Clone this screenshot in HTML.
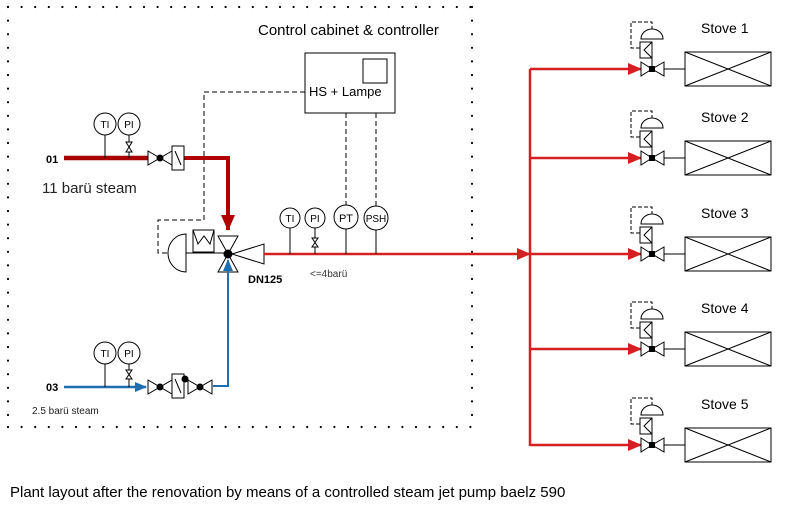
<!DOCTYPE html>
<html><head><style>body{margin:0;background:#fff}svg{display:block}text{font-family:"Liberation Sans",Arial,sans-serif}</style></head><body>
<svg width="786" height="506" viewBox="0 0 786 506" xmlns="http://www.w3.org/2000/svg">
<defs>
<marker id="ar" markerWidth="14" markerHeight="12" refX="13" refY="6" orient="auto" markerUnits="userSpaceOnUse"><path d="M0,0 L14,6 L0,12z" fill="#d42020"/></marker>
<marker id="ab" markerWidth="12" markerHeight="10" refX="11" refY="5" orient="auto" markerUnits="userSpaceOnUse"><path d="M0,0 L12,5 L0,10z" fill="#1f6fb0"/></marker>
<marker id="ad" markerWidth="16" markerHeight="14" refX="15" refY="7" orient="auto" markerUnits="userSpaceOnUse"><path d="M0,0 L16,7 L0,14z" fill="#b00000"/></marker>
<g id="st">
<line x1="530" y1="0" x2="641" y2="0" stroke="#d42020" stroke-width="2.5" marker-end="url(#ar)"/>
<g stroke="#000" fill="#fff" stroke-width="1">
<path d="M641,-7 L652,0 L641,7z M664,-7 L652,0 L664,7z"/>
<line x1="664" y1="0" x2="685" y2="0"/><line x1="664" y1="-5" x2="664" y2="5"/><line x1="652" y1="0" x2="652" y2="-27"/>
<rect x="640" y="-27" width="12" height="16"/><polyline points="652,-27 644,-19 652,-11" fill="none"/>
<path d="M641,-30 A11,10 0 0 1 663,-30z"/>
<polyline points="640,-21 631,-21 631,-47 652,-47 652,-40" fill="none" stroke-dasharray="4 2"/>
<rect x="685" y="-17" width="86" height="34"/><line x1="685" y1="-17" x2="771" y2="17"/><line x1="685" y1="17" x2="771" y2="-17"/>
</g>
<rect x="649" y="-3" width="6" height="6"/>
</g>
</defs>
<g stroke="#000" stroke-width="2.2" stroke-linecap="round" stroke-dasharray="0 13.6" fill="none">
<line x1="8" y1="7" x2="472" y2="7"/><line x1="8" y1="7" x2="8" y2="427"/><line x1="8" y1="427" x2="472" y2="427"/><line x1="472" y1="7" x2="472" y2="427"/>
</g>
<text x="258" y="35" font-size="15">Control cabinet &amp; controller</text>
<rect x="305" y="53" width="90" height="60" fill="none" stroke="#000"/>
<rect x="363" y="59" width="24" height="24" fill="none" stroke="#000"/>
<text x="309" y="96" font-size="13">HS + Lampe</text>
<g stroke="#000" stroke-dasharray="5 3" fill="none">
<polyline points="305,92 204,92 204,220 158,220 158,253 168,253"/>
<line x1="346" y1="113" x2="346" y2="206"/><line x1="376" y1="113" x2="376" y2="206"/>
</g>
<text x="46" y="163" font-size="11" font-weight="bold">01</text>
<text x="42" y="193" font-size="15" fill="#222">11 barü steam</text>
<line x1="64" y1="158" x2="148" y2="158" stroke="#a80000" stroke-width="4.5"/>
<polyline points="184,158 228,158 228,230" fill="none" stroke="#b00000" stroke-width="4" marker-end="url(#ad)"/>
<g stroke="#000" fill="#fff" stroke-width="1">
<circle cx="105" cy="124" r="11"/><circle cx="129" cy="124" r="11"/>
<line x1="105" y1="135" x2="105" y2="158"/><line x1="129" y1="135" x2="129" y2="158"/>
<path d="M126,142 L132,142 L126,152 L132,152z"/>
<path d="M148,151 L160,158 L148,165z M172,151 L160,158 L172,165z"/>
<rect x="172" y="146" width="12" height="24"/><line x1="175" y1="151" x2="181" y2="165"/>
</g>
<circle cx="160" cy="158" r="3.5"/>
<g stroke="#000" fill="#fff" stroke-width="1">
<path d="M218,236 L238,236 L228,254z M218,272 L238,272 L228,254z"/>
<path d="M232,254 L264,244 L264,264z"/>
<rect x="193" y="230" width="21" height="22"/><polyline points="193,230 198,244 204,236 210,244 214,230" fill="none"/>
<line x1="186" y1="253" x2="228" y2="253"/>
<path d="M186,234 A18,19 0 0 0 186,272z"/>
</g>
<circle cx="228" cy="254" r="4.5"/>
<text x="248" y="283" font-size="11" font-weight="bold">DN125</text>
<text x="310" y="277" font-size="10" fill="#333">&lt;=4barü</text>
<line x1="264" y1="254" x2="530" y2="254" stroke="#d42020" stroke-width="2.5" marker-end="url(#ar)"/>
<g stroke="#000" fill="#fff" stroke-width="1">
<line x1="290" y1="227" x2="290" y2="254"/><line x1="315" y1="227" x2="315" y2="254"/><line x1="346" y1="228" x2="346" y2="254"/><line x1="376" y1="228" x2="376" y2="254"/>
<circle cx="290" cy="218" r="10"/><circle cx="315" cy="218" r="10"/><circle cx="346" cy="217" r="12"/><circle cx="376" cy="218" r="12"/>
<path d="M312,238 L318,238 L312,247 L318,247z"/>
</g>
<text x="46" y="391" font-size="11" font-weight="bold">03</text>
<text x="32" y="414" font-size="10" fill="#222">2.5 barü steam</text>
<line x1="64" y1="387" x2="146" y2="387" stroke="#1f6fb0" stroke-width="2.5" marker-end="url(#ab)"/>
<polyline points="213,386 228,386 228,260" fill="none" stroke="#1f6fb0" stroke-width="2" marker-end="url(#ab)"/>
<g stroke="#000" fill="#fff" stroke-width="1">
<circle cx="105" cy="353" r="11"/><circle cx="129" cy="353" r="11"/>
<line x1="105" y1="364" x2="105" y2="387"/><line x1="129" y1="364" x2="129" y2="387"/>
<path d="M126,370 L132,370 L126,379 L132,379z"/>
<path d="M148,380 L160,387 L148,394z M172,380 L160,387 L172,394z"/>
<rect x="172" y="374" width="12" height="24"/><line x1="175" y1="379" x2="181" y2="393"/>
<path d="M188,380 L200,387 L188,394z M212,380 L200,387 L212,394z"/>
</g>
<circle cx="160" cy="387" r="3.5"/><circle cx="185" cy="379" r="3.5"/><circle cx="200" cy="387" r="3.5"/>
<g font-size="10" text-anchor="middle"><text x="290" y="222">TI</text><text x="315" y="222">PI</text><text x="346" y="222" font-size="11">PT</text><text x="376" y="222">PSH</text>
<text x="105" y="128">TI</text><text x="129" y="128">PI</text><text x="105" y="357">TI</text><text x="129" y="357">PI</text></g>
<line x1="530" y1="69" x2="530" y2="446" stroke="#d42020" stroke-width="2.5"/>
<use href="#st" y="69"/><use href="#st" y="158"/><use href="#st" y="254"/><use href="#st" y="349"/><use href="#st" y="445"/>
<g font-size="14"><text x="701" y="33">Stove 1</text><text x="701" y="122">Stove 2</text><text x="701" y="218">Stove 3</text><text x="701" y="313">Stove 4</text><text x="701" y="409">Stove 5</text></g>
<text x="10" y="497" font-size="15">Plant layout after the renovation by means of a controlled steam jet pump baelz 590</text>
</svg>
</body></html>
